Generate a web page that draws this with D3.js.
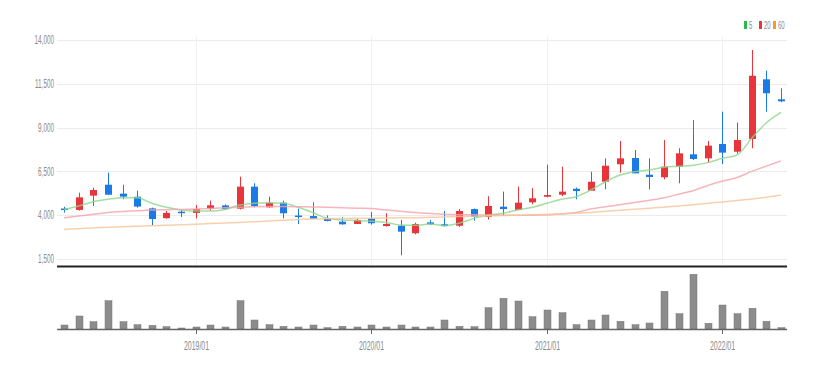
<!DOCTYPE html>
<html>
<head>
<meta charset="utf-8">
<script src="https://cdn.jsdelivr.net/npm/d3@7"></script>
<style>
  html, body { margin: 0; padding: 0; background: #fff; }
  svg { display: block; }
</style>
</head>
<body>
<div id="chart"></div>
<script>
// monthly candles, 2018/04 .. 2022/05
const months = [
  "2018/04","2018/05","2018/06","2018/07","2018/08","2018/09","2018/10","2018/11","2018/12",
  "2019/01","2019/02","2019/03","2019/04","2019/05","2019/06","2019/07","2019/08","2019/09","2019/10","2019/11","2019/12",
  "2020/01","2020/02","2020/03","2020/04","2020/05","2020/06","2020/07","2020/08","2020/09","2020/10","2020/11","2020/12",
  "2021/01","2021/02","2021/03","2021/04","2021/05","2021/06","2021/07","2021/08","2021/09","2021/10","2021/11","2021/12",
  "2022/01","2022/02","2022/03","2022/04","2022/05"
];
const opens = [4380,4300,5115,5740,5230,5055,4390,3830,4200,4130,4375,4560,4375,5630,4450,4715,3980,3950,3820,3630,
  3500,3820,3380,3400,2970,3590,3480,3400,4350,3900,4485,4300,4735,5055,5170,5510,5400,5910,6905,7265,
  6310,6165,6770,7475,7245,8065,7625,8350,11755,10615];
const highs = [4480,5284,5570,6430,5740,5400,4430,4240,4340,4580,4830,4620,6200,5820,5055,4830,4375,4735,3990,3900,
  3780,4180,4110,3730,3570,3720,4240,4350,4380,5080,5345,5630,5535,6880,6770,5580,6485,7245,8235,7720,
  7245,8290,7820,9430,8235,9910,9280,13430,12250,11240];
const lows = [4150,4260,4525,5150,4910,4430,3420,3800,3900,3820,4260,4300,4330,4450,4430,3820,3500,3780,3650,3460,
  3500,3460,3350,1710,2910,3440,3350,3330,3690,3750,3960,4300,4625,5020,5085,4910,5400,5480,6425,6390,
  5480,6050,5820,7150,7000,6920,7510,7820,9910,10450];
const closes = [4300,5020,5440,5170,5060,4490,3780,4130,4130,4340,4565,4350,5630,4525,4715,4110,3940,3800,3670,3480,
  3730,3540,3500,3060,3500,3480,3380,4240,3900,4525,4350,4715,4965,5150,5345,5380,5910,6825,7245,6390,
  6180,6770,7530,7210,7970,7570,8290,11960,10960,10500];
const volumes = [400,1300,730,2830,730,430,370,230,100,200,400,200,2830,900,430,270,200,400,130,270,
  200,400,200,400,200,200,900,270,230,2130,3070,2800,1230,1900,1630,430,900,1400,770,430,
  600,3770,1530,5470,570,2400,1530,2070,770,130];

// moving averages
const ma5 = [4330,4525,4770,4910,5000,5000,4680,4450,4300,4240,4240,4330,4580,4680,4715,4680,4450,4150,3820,3730,
  3700,3650,3590,3440,3420,3500,3400,3540,3820,4000,4110,4300,4450,4680,4910,5055,5440,5910,6295,6485,
  6580,6735,6790,6850,7000,7245,7435,8390,9280,9870];
const ma20 = [3860,3950,4050,4150,4210,4250,4290,4310,4330,4350,4380,4420,4460,4480,4490,4490,4485,4470,4450,4420,
  4400,4380,4300,4220,4150,4100,4060,4030,4020,4010,4000,4000,4000,4020,4080,4160,4350,4480,4600,4720,
  4850,5000,5200,5400,5700,5950,6150,6500,6800,7100];
const ma60 = [3190,3230,3270,3310,3340,3370,3400,3430,3460,3490,3520,3550,3590,3630,3670,3710,3750,3780,3800,3810,
  3820,3830,3840,3850,3860,3880,3900,3920,3940,3960,3980,4000,4020,4040,4070,4110,4160,4220,4280,4340,
  4400,4460,4530,4600,4680,4760,4840,4930,5030,5150];

const priceTicks = [1500, 4000, 6500, 9000, 11500, 14000];
const yearTicks = ["2019/01", "2020/01", "2021/01", "2022/01"];
const maNames = ["5", "20", "60"];

const width = 821, height = 370;
const left = 57, right = 787;
const upColor = "#e8353b", downColor = "#1a7be6";
const maColors = ["#2db84a", "#e8383d", "#f59a2c"];
const lineColors = ["#8cd68c", "#f4a3ab", "#f7c49a"];

const svg = d3.select("#chart").append("svg")
  .attr("width", width)
  .attr("height", height)
  .attr("font-family", "'Liberation Sans', Arial, sans-serif");

const x = d3.scalePoint().domain(months).range([64, 781]);
const y = d3.scaleLinear().domain([1500, 14000]).range([259, 40]);
const yVol = d3.scaleLinear().domain([0, 5500]).range([329, 274]);

// grid
svg.append("g")
  .selectAll("line")
  .data(priceTicks)
  .join("line")
  .attr("x1", left).attr("x2", right)
  .attr("y1", d => Math.round(y(d)) + 0.5).attr("y2", d => Math.round(y(d)) + 0.5)
  .attr("stroke", "#ececec");

svg.append("g")
  .selectAll("line")
  .data(yearTicks)
  .join("line")
  .attr("x1", d => Math.round(x(d)) + 0.5).attr("x2", d => Math.round(x(d)) + 0.5)
  .attr("y1", 36).attr("y2", 265)
  .attr("stroke", "#f1f1f1");

// y labels (condensed look)
svg.append("g")
  .selectAll("text")
  .data(priceTicks)
  .join("text")
  .attr("transform", d => `translate(54,${y(d)}) scale(0.53,1)`)
  .attr("text-anchor", "end")
  .attr("dy", "0.35em")
  .attr("font-size", 12)
  .attr("fill", "#8a8a8a")
  .text(d3.format(","));

// candles
const idx = d3.range(months.length);
const bw = 7;
const candles = svg.append("g");
candles.selectAll("line")
  .data(idx)
  .join("line")
  .attr("x1", i => Math.round(x(months[i])) + 0.5)
  .attr("x2", i => Math.round(x(months[i])) + 0.5)
  .attr("y1", i => y(highs[i]))
  .attr("y2", i => y(lows[i]))
  .attr("stroke", i => closes[i] >= opens[i] ? upColor : downColor);
candles.selectAll("rect")
  .data(idx)
  .join("rect")
  .attr("x", i => Math.round(x(months[i])) - (bw - 1) / 2)
  .attr("width", bw)
  .attr("y", i => y(Math.max(opens[i], closes[i])))
  .attr("height", i => Math.max(1.5, Math.abs(y(opens[i]) - y(closes[i]))))
  .attr("fill", i => closes[i] >= opens[i] ? upColor : downColor);

// moving average lines on top
const line = d3.line().x((d, i) => x(months[i])).y(d => y(d)).curve(d3.curveMonotoneX);
[ma5, ma20, ma60].forEach((s, k) => {
  svg.append("path")
    .attr("d", line(s))
    .attr("fill", "none")
    .attr("stroke", lineColors[k])
    .attr("stroke-opacity", 0.8)
    .attr("stroke-width", 1.5);
});

// panel divider
svg.append("line")
  .attr("x1", left).attr("x2", right)
  .attr("y1", 266.5).attr("y2", 266.5)
  .attr("stroke", "#222").attr("stroke-width", 2);

// volume
svg.append("g")
  .selectAll("rect")
  .data(idx)
  .join("rect")
  .attr("x", i => Math.round(x(months[i])) - 3)
  .attr("width", 7)
  .attr("y", i => yVol(volumes[i]))
  .attr("height", i => yVol(0) - yVol(volumes[i]))
  .attr("fill", "#8c8c8c")
  .attr("stroke", "#777")
  .attr("stroke-width", 0.5);

svg.append("line")
  .attr("x1", left).attr("x2", right)
  .attr("y1", 329.5).attr("y2", 329.5)
  .attr("stroke", "#666").attr("stroke-width", 1.5);

const xt = svg.append("g")
  .selectAll("g")
  .data(yearTicks)
  .join("g")
  .attr("transform", d => `translate(${Math.round(x(d)) + 0.5},0)`);
xt.append("line")
  .attr("y1", 329).attr("y2", 334)
  .attr("stroke", "#666");
xt.append("text")
  .attr("transform", "translate(0,350) scale(0.58,1)")
  .attr("text-anchor", "middle")
  .attr("font-size", 12)
  .attr("fill", "#8a8a8a")
  .text(d => d);

// legend
const lg = svg.append("g")
  .selectAll("g")
  .data(maNames)
  .join("g")
  .attr("transform", (d, i) => `translate(${[744, 759, 773][i]},21)`);
lg.append("rect")
  .attr("width", 3).attr("height", 8)
  .attr("fill", (d, i) => maColors[i]);
lg.append("text")
  .attr("transform", "translate(5,8) scale(0.55,1)")
  .attr("font-size", 11)
  .attr("fill", "#8a8a8a")
  .text(d => d);
</script>
</body>
</html>
